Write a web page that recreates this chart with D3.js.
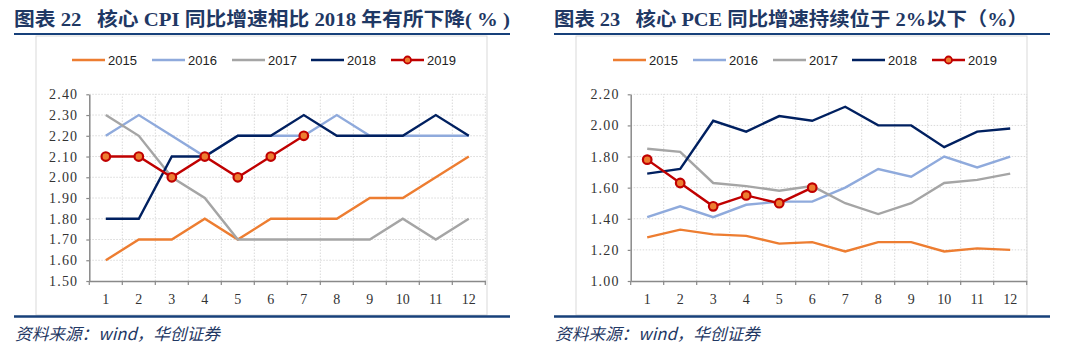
<!DOCTYPE html>
<html><head><meta charset="utf-8">
<script src="https://cdn.jsdelivr.net/npm/d3@7/dist/d3.min.js"></script>
<style>
html,body{margin:0;padding:0;background:#fff;}
svg{display:block;}
</style></head>
<body>
<svg id="chart" width="1081" height="357"></svg>
<script>
// ---------- DATA ----------
const months = [1,2,3,4,5,6,7,8,9,10,11,12];
const seriesNames = ["2015","2016","2017","2018","2019"];
const seriesColors = ["#ED7D31","#8FAADC","#A5A5A5","#002060","#C00000"];

// 图表22 核心CPI
const cpi2015 = [1.6,1.7,1.7,1.8,1.7,1.8,1.8,1.8,1.9,1.9,2.0,2.1];
const cpi2016 = [2.2,2.3,2.2,2.1,2.2,2.2,2.2,2.3,2.2,2.2,2.2,2.2];
const cpi2017 = [2.3,2.2,2.0,1.9,1.7,1.7,1.7,1.7,1.7,1.8,1.7,1.8];
const cpi2018 = [1.8,1.8,2.1,2.1,2.2,2.2,2.3,2.2,2.2,2.2,2.3,2.2];
const cpi2019 = [2.1,2.1,2.0,2.1,2.0,2.1,2.2];
const cpiTicks = [1.5,1.6,1.7,1.8,1.9,2.0,2.1,2.2,2.3,2.4];

// 图表23 核心PCE
const pce2015 = [1.28,1.33,1.30,1.29,1.24,1.25,1.19,1.25,1.25,1.19,1.21,1.20];
const pce2016 = [1.41,1.48,1.41,1.49,1.51,1.51,1.60,1.72,1.67,1.80,1.73,1.80];
const pce2017 = [1.85,1.83,1.63,1.61,1.58,1.61,1.50,1.43,1.50,1.63,1.65,1.69];
const pce2018 = [1.69,1.72,2.03,1.96,2.06,2.03,2.12,2.00,2.00,1.86,1.96,1.98];
const pce2019 = [1.78,1.63,1.48,1.55,1.50,1.60];
const pceTicks = [1.0,1.2,1.4,1.6,1.8,2.0,2.2];

const titleLeft = "图表 22   核心 CPI 同比增速相比 2018 年有所下降( % )";
const titleRight = "图表 23   核心 PCE 同比增速持续位于 2%以下（%）";
const sourceText = "资料来源：wind，华创证券";

// ---------- DRAW ----------
const svg = d3.select("#chart");

function panel(opt){
  const g = svg.append("g").attr("transform", `translate(${opt.ox},0)`);
  // title
  g.append("text").attr("x",14).attr("y",26)
    .style("white-space","pre").attr("xml:space","preserve")
    .attr("font-family","'Liberation Serif','Noto Sans CJK SC',serif")
    .attr("font-weight","bold").attr("font-size",19).attr("fill","#1F3864")
    .attr("textLength",opt.titleLen).attr("lengthAdjust","spacingAndGlyphs")
    .text(opt.title);
  g.append("line").attr("x1",14).attr("x2",510).attr("y1",34).attr("y2",34)
    .attr("stroke","#17407A").attr("stroke-width",2);
  // frame
  g.append("rect").attr("x",opt.fx).attr("y",36).attr("width",451).attr("height",279)
    .attr("fill","#fff").attr("stroke","#D9D9D9").attr("stroke-width",1);
  g.append("line").attr("x1",14).attr("x2",510).attr("y1",316.5).attr("y2",316.5)
    .attr("stroke","#17407A").attr("stroke-width",2.5);
  g.append("text").attr("x",15).attr("y",340)
    .attr("font-family","'Noto Sans CJK SC',sans-serif").attr("font-style","italic")
    .attr("font-size",16.5).attr("fill","#1F3864")
    .attr("textLength",205).attr("lengthAdjust","spacingAndGlyphs").text(sourceText);

  const x = d3.scaleBand().domain(months).range([opt.x0, opt.x0+396]).padding(0);
  const y = d3.scaleLinear().domain(opt.domain).range([281,94.3]);

  // grid
  const grid = g.append("g");
  grid.selectAll(".h").data(opt.ticks.slice(1)).join("line")
    .attr("x1",opt.x0).attr("x2",opt.x0+396)
    .attr("y1",d=>y(d)).attr("y2",d=>y(d))
    .attr("stroke","#D9D9D9").attr("stroke-dasharray","1.5,1.5").attr("stroke-width",1);
  grid.selectAll(".v").data(months).join("line")
    .attr("x1",d=>x(d)+x.bandwidth()).attr("x2",d=>x(d)+x.bandwidth())
    .attr("y1",y(opt.domain[0])).attr("y2",y(opt.domain[1]))
    .attr("stroke","#D9D9D9").attr("stroke-dasharray","1.5,1.5").attr("stroke-width",1);

  // axes
  const yAxis = d3.axisLeft(y).tickValues(opt.ticks).tickSize(3).tickSizeOuter(0)
    .tickFormat(d3.format(".2f")).tickPadding(8);
  const ya = g.append("g").attr("transform",`translate(${opt.x0},0)`).call(yAxis);
  ya.select(".domain").attr("stroke","#898989").attr("stroke-width",1.5);
  ya.selectAll(".tick line").attr("stroke","#898989").attr("stroke-width",1.2);
  ya.selectAll("text").attr("font-family","'Liberation Serif',serif").attr("font-size",14)
    .attr("fill","#333").attr("letter-spacing","1.2px");

  const xAxis = d3.axisBottom(x).tickSize(0).tickPadding(13);
  const xa = g.append("g").attr("transform",`translate(0,${y(opt.domain[0])})`).call(xAxis);
  xa.select(".domain").attr("stroke","#898989").attr("stroke-width",1.5);
  xa.selectAll("text").attr("font-family","'Liberation Serif',serif").attr("font-size",14).attr("fill","#333");
  xa.selectAll(".bt").data([0].concat(months)).join("line")
    .attr("x1",d=>d===0?opt.x0:x(d)+x.bandwidth()).attr("x2",d=>d===0?opt.x0:x(d)+x.bandwidth())
    .attr("y1",0).attr("y2",4).attr("stroke","#898989").attr("stroke-width",1.2);

  // lines
  const line = d3.line().x((d,i)=>x(months[i])+x.bandwidth()/2).y(d=>y(d));
  opt.series.forEach((s,k)=>{
    g.append("path").datum(s).attr("d",line).attr("fill","none")
      .attr("stroke",seriesColors[k]).attr("stroke-width",2.4).attr("stroke-linejoin","miter");
  });
  const last = opt.series[4];
  g.selectAll(".mk").data(last).join("circle")
    .attr("cx",(d,i)=>x(months[i])+x.bandwidth()/2).attr("cy",d=>y(d)).attr("r",4.3)
    .attr("fill","#ED7D31").attr("stroke","#C00000").attr("stroke-width",2.2);

  // legend
  const lg = g.append("g");
  const lx = [72,152,232,311,391];
  seriesNames.forEach((n,k)=>{
    lg.append("line").attr("x1",lx[k]+opt.lshift).attr("x2",lx[k]+33+opt.lshift).attr("y1",60).attr("y2",60)
      .attr("stroke",seriesColors[k]).attr("stroke-width",2.4);
    if(k===4){
      lg.append("circle").attr("cx",lx[k]+16.5+opt.lshift).attr("cy",60).attr("r",3.5)
        .attr("fill","#ED7D31").attr("stroke","#C00000").attr("stroke-width",1.8);
    }
    lg.append("text").attr("x",lx[k]+36+opt.lshift).attr("y",64.5)
      .attr("font-family","'Liberation Sans',Arial,sans-serif").attr("font-size",13)
      .attr("fill","#222").text(n);
  });
}

panel({ox:0, title:titleLeft, titleLen:496, fx:36, x0:89.3, domain:[1.5,2.4], ticks:cpiTicks,
  series:[cpi2015,cpi2016,cpi2017,cpi2018,cpi2019], lshift:0});
panel({ox:540, title:titleRight, titleLen:474, fx:36, x0:90.7, domain:[1.0,2.2], ticks:pceTicks,
  series:[pce2015,pce2016,pce2017,pce2018,pce2019], lshift:1});
</script>
</body></html>
